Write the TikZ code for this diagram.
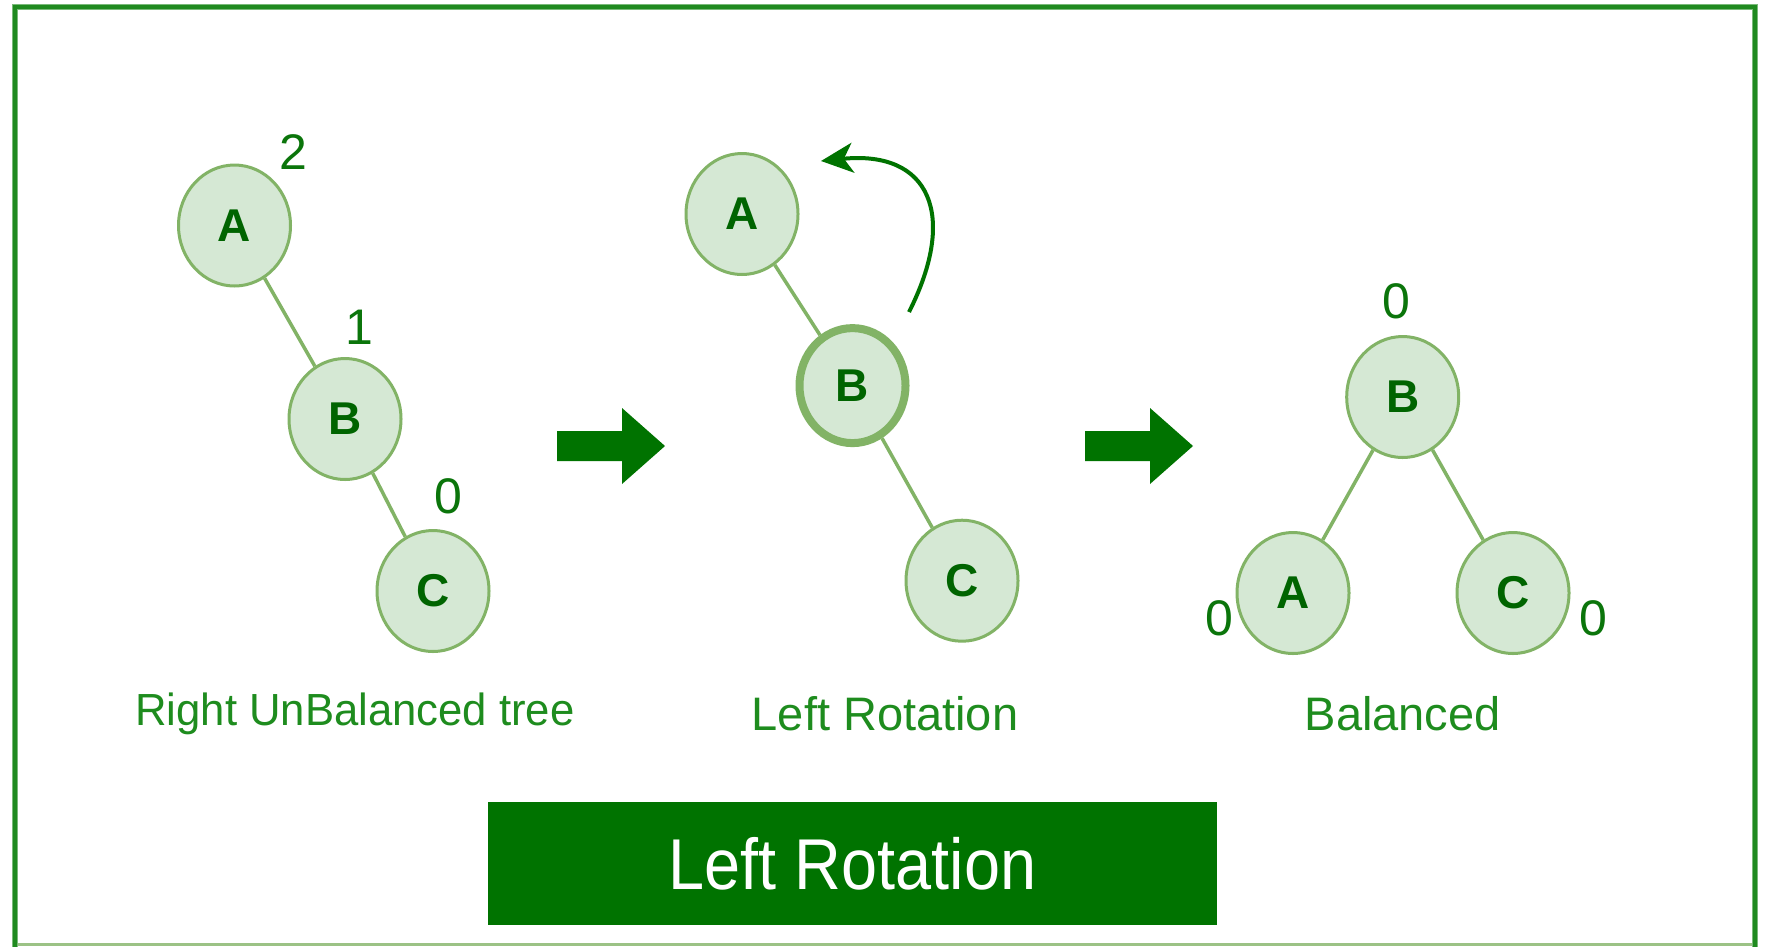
\documentclass[tikz,border=0pt]{standalone}
\usepackage{fontspec}
\setmainfont{Liberation Sans}
\usetikzlibrary{shapes.geometric,arrows.meta}
\definecolor{nfill}{HTML}{D5E8D4}
\definecolor{nline}{HTML}{82B366}
\definecolor{dgreen}{HTML}{007300}
\definecolor{tgreen}{HTML}{1E8C1E}
\definecolor{numgreen}{HTML}{0B750B}
\definecolor{letter}{HTML}{006400}
\definecolor{bgreen}{HTML}{1F8A1F}
\begin{document}
\begin{tikzpicture}[x=1pt,y=-1pt,
  tnode/.style={ellipse, draw=nline, fill=nfill, line width=3pt, minimum width=112pt, minimum height=121pt, inner sep=0pt, text=letter, font=\fontsize{46pt}{50pt}\selectfont\bfseries},
  thick node/.style={tnode, line width=8pt, minimum width=106pt, minimum height=115pt},
  edge/.style={draw=nline, line width=3.5pt},
  num/.style={text=numgreen, inner sep=0pt, font=\fontsize{50pt}{60pt}\selectfont},
  lbl/.style={text=tgreen, inner sep=0pt, font=\fontsize{47pt}{54pt}\selectfont},
  bigarrow/.style={fill=dgreen},
  curv/.style={draw=dgreen, line width=4pt, -{Stealth[length=32pt,width=30pt,inset=9pt]}},
]
\useasboundingbox (0,0) rectangle (1768,946);
\fill[white] (0,0) rectangle (1768,946);
% border
\draw[line width=3pt, nline!80] (15,944) -- (1755,944);
\draw[line width=6pt, bgreen!60] (15,950) -- (15,7) -- (1755,7) -- (1755,950);
\draw[line width=4pt, bgreen] (15,950) -- (15,7) -- (1755,7) -- (1755,950);

% tree 1
\node[tnode] (A1) at (234.5,225.5) {A};
\node[tnode] (B1) at (345,419) {B};
\node[tnode] (C1) at (433,591) {C};
\draw[edge] (A1) -- (B1);
\draw[edge] (B1) -- (C1);
\node[num] (nA1) at (293,152) {2};
\node[num] (nB1) at (359,327) {1};
\node[num] (nC1) at (448,496) {0};
\node[lbl, font=\fontsize{45pt}{54pt}\selectfont] (L1) at (355,714) {\scalebox{0.97}[1]{Right UnBalanced tree}};

% arrow 1
\fill[bigarrow] (557,431) -- (622,431) -- (622,408) -- (665,446) -- (622,484) -- (622,461) -- (557,461) -- cycle;

% tree 2
\node[tnode] (A2) at (742,214) {A};
\node[thick node] (B2) at (852.5,385.6) {B};
\node[tnode] (C2) at (962,580.7) {C};
\draw[edge] (A2) -- (B2);
\draw[edge] (B2) -- (C2);
\coordinate (rs) at (909,312);
\coordinate (re) at (821,161);
\draw[curv] (rs) .. controls (958,215) and (930,150) .. (re);
\node[lbl] (L2) at (885,714) {Left Rotation};

% arrow 2
\fill[bigarrow] (1085,431) -- (1150,431) -- (1150,408) -- (1193,446) -- (1150,484) -- (1150,461) -- (1085,461) -- cycle;

% tree 3
\node[tnode] (B3) at (1402.7,397) {B};
\node[tnode] (A3) at (1293,593) {A};
\node[tnode] (C3) at (1513,593) {C};
\draw[edge] (B3) -- (A3);
\draw[edge] (B3) -- (C3);
\node[num] (nB3) at (1396,301) {0};
\node[num] (nA3) at (1219,618) {0};
\node[num] (nC3) at (1593,618) {0};
\node[lbl] (L3) at (1402.7,714) {Balanced};

% bottom box
\node[fill=dgreen, minimum width=729pt, minimum height=123pt, inner sep=0pt, text=white, font=\fontsize{72pt}{80pt}\selectfont] (box) at (852.5,863.5) {\scalebox{0.9}[1]{Left Rotation}};
\end{tikzpicture}
\end{document}
